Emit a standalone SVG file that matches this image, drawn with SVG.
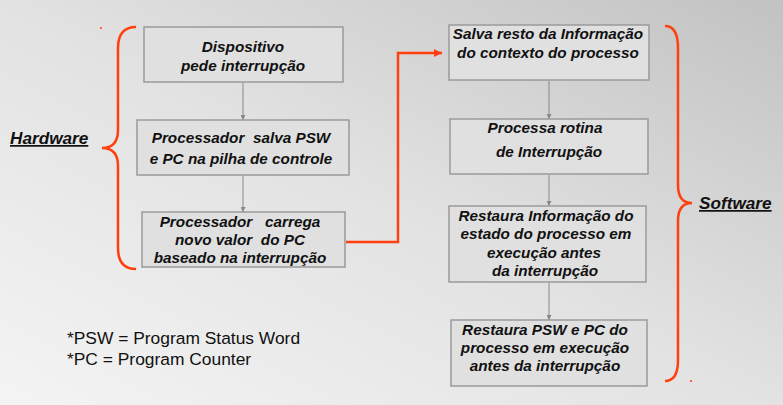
<svg xmlns="http://www.w3.org/2000/svg" width="783" height="405" viewBox="0 0 783 405">
<defs>
<linearGradient id="bg" x1="0" y1="1" x2="1" y2="0">
<stop offset="0" stop-color="#f4f4f4"/>
<stop offset="0.5" stop-color="#e2e2e2"/>
<stop offset="1" stop-color="#c2c2c2"/>
</linearGradient>
<marker id="ga" viewBox="0 0 10 10" refX="10" refY="5" markerWidth="5" markerHeight="5" orient="auto" markerUnits="userSpaceOnUse"><path d="M0,0 L10,5 L0,10 z" fill="#888"/></marker>
<marker id="oa" viewBox="0 0 10 10" refX="10" refY="5" markerWidth="8" markerHeight="8" orient="auto" markerUnits="userSpaceOnUse"><path d="M0,0 L10,5 L0,10 z" fill="#ff3f10"/></marker>
</defs>
<style>
.box{fill:#e0e0e0;stroke:#9a9a9a;stroke-width:1.5}
.t{font-family:"Liberation Sans",Arial,sans-serif;font-weight:bold;font-style:italic;font-size:15.3px;fill:#111;text-anchor:middle}
.h{font-family:"Liberation Sans",Arial,sans-serif;font-weight:bold;font-style:italic;font-size:17.2px;fill:#111;text-decoration:underline}
.n{font-family:"Liberation Sans",Arial,sans-serif;font-size:17.4px;fill:#111}
.g{stroke:#888;stroke-width:1;fill:none}
.br{stroke:#ff3f10;stroke-width:2.5;fill:none}
</style>
<rect width="783" height="405" fill="url(#bg)"/>

<g id="connectors">
<line class="g" x1="243" y1="83" x2="243" y2="120" marker-end="url(#ga)"/>
<line class="g" x1="243" y1="176" x2="243" y2="212" marker-end="url(#ga)"/>
<line class="g" x1="549" y1="81" x2="549" y2="119" marker-end="url(#ga)"/>
<line class="g" x1="549" y1="175" x2="549" y2="206" marker-end="url(#ga)"/>
<line class="g" x1="549" y1="283" x2="549" y2="320" marker-end="url(#ga)"/>
<path d="M346,242 H398 V53 H442" fill="none" stroke="#ff3f10" stroke-width="2.5" marker-end="url(#oa)"/>
</g>

<g id="hardware-brace">
<path class="br" d="M136,27 Q118,27 118,48 V130 Q118,148 102,148 Q118,148 118,166 V248 Q118,269 136,269"/>
<circle cx="101" cy="28" r="1" fill="#ff3f10"/>
<text class="h" x="10" y="144">Hardware</text>
</g>

<g id="software-brace">
<path class="br" d="M665,26 Q678,26 678,48 V185 Q678,203 692,203 Q678,203 678,221 V360 Q678,381 665,381"/>
<circle cx="691" cy="381" r="1" fill="#ff3f10"/>
<text class="h" x="699" y="209">Software</text>
</g>

<g id="n1"><rect class="box" x="144" y="27" width="199" height="55"/>
<text class="t" x="243" y="52">Dispositivo</text>
<text class="t" x="243" y="71">pede interrupção</text></g>

<g id="n2"><rect class="box" x="137" y="120" width="212" height="55"/>
<text class="t" x="241" y="143" xml:space="preserve">Processador  salva PSW</text>
<text class="t" x="241" y="164">e PC na pilha de controle</text></g>

<g id="n3"><rect class="box" x="142" y="212" width="203" height="55"/>
<text class="t" x="240" y="227" xml:space="preserve">Processador   carrega</text>
<text class="t" x="240" y="245" xml:space="preserve">novo valor  do PC</text>
<text class="t" x="240" y="263">baseado na interrupção</text></g>

<g id="n4"><rect class="box" x="449" y="25" width="200" height="55"/>
<text class="t" x="548" y="39">Salva resto da Informação</text>
<text class="t" x="548" y="58">do contexto do processo</text></g>

<g id="n5"><rect class="box" x="450" y="119" width="198" height="55"/>
<text class="t" x="545" y="133">Processa rotina</text>
<text class="t" x="549" y="157">de Interrupção</text></g>

<g id="n6"><rect class="box" x="449" y="206" width="197" height="76"/>
<text class="t" x="546" y="221">Restaura Informação do</text>
<text class="t" x="546" y="239">estado do processo em</text>
<text class="t" x="544" y="258">execução antes</text>
<text class="t" x="545" y="276">da interrupção</text></g>

<g id="n7"><rect class="box" x="451" y="320" width="196" height="66"/>
<text class="t" x="545" y="335">Restaura PSW e PC do</text>
<text class="t" x="545" y="353">processo em execução</text>
<text class="t" x="545" y="371">antes da interrupção</text></g>

<g id="notes">
<text class="n" x="67" y="344">*PSW = Program Status Word</text>
<text class="n" x="67" y="365">*PC = Program Counter</text>
</g>
</svg>
